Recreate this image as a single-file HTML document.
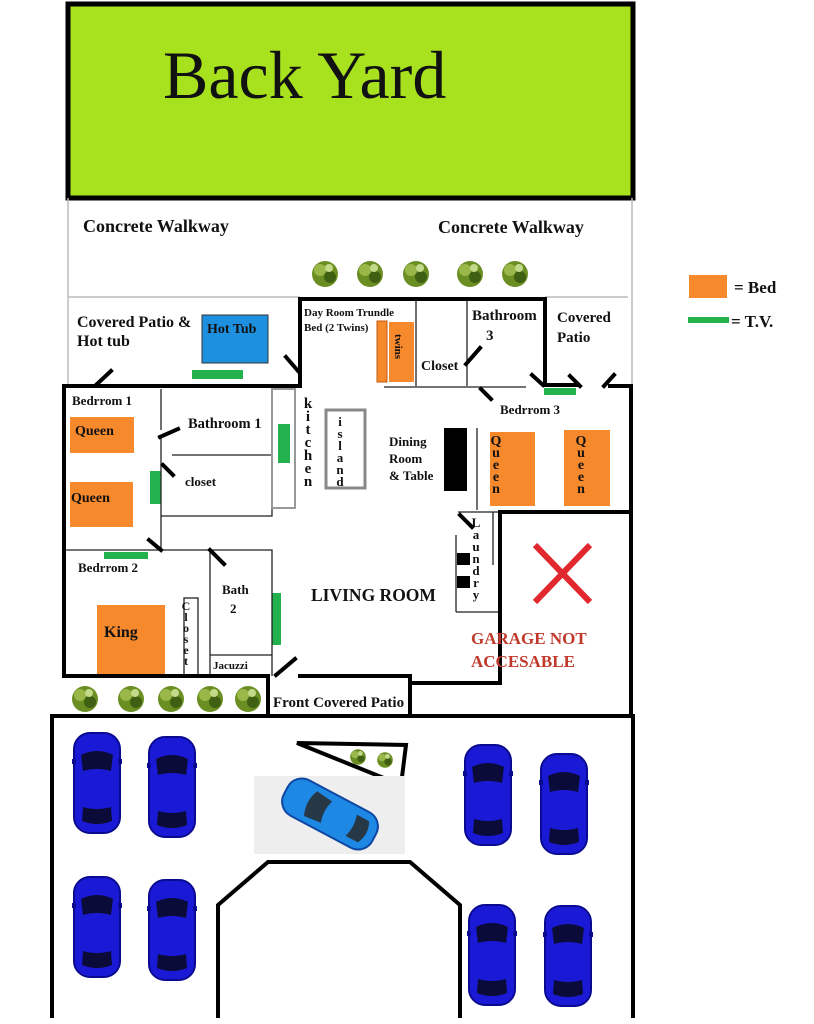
<!DOCTYPE html>
<html><head><meta charset="utf-8"><style>
html,body{margin:0;padding:0;background:#fff;width:814px;height:1024px;overflow:hidden}
text{font-family:"Liberation Serif",serif;font-weight:bold;fill:#111}
</style></head><body>
<svg width="814" height="1024" viewBox="0 0 814 1024" xmlns="http://www.w3.org/2000/svg">
<defs>
<g id="car">
<rect x="2" y="0" width="46" height="100" rx="16" fill="#1a1ad6" stroke="#0a0a90" stroke-width="2"/>
<path d="M9 22 Q25 14 41 22 L39 38 Q25 34 11 38 Z" fill="#0b0b3a"/>
<path d="M11 74 Q25 78 39 74 L40 88 Q25 94 10 88 Z" fill="#0b0b3a"/>
<rect x="0" y="26" width="4" height="5" fill="#0a0a90"/><rect x="46" y="26" width="4" height="5" fill="#0a0a90"/>
</g>
<g id="tree">
<circle cx="0" cy="0" r="13" fill="#6b8e23"/>
<circle cx="-5" cy="-4" r="6" fill="#9ab84a"/><circle cx="5" cy="3" r="6" fill="#3f5f12"/><circle cx="4" cy="-6" r="4" fill="#c3d98a"/>
</g>
</defs>
<rect x="68" y="4" width="565" height="194" fill="#a8e21e" stroke="#000" stroke-width="5"/>
<text x="163" y="98" font-size="68" style="font-weight:normal">Back Yard</text>
<g stroke="#bbb" stroke-width="1.5" fill="none">
<line x1="68" y1="198" x2="68" y2="386"/><line x1="632" y1="198" x2="632" y2="386"/>
<line x1="68" y1="297" x2="300" y2="297"/><line x1="545" y1="297" x2="628" y2="297"/>
</g>
<text x="83" y="232" font-size="18">Concrete Walkway</text>
<text x="438" y="233" font-size="18">Concrete Walkway</text>
<use href="#tree" x="325" y="274"/><use href="#tree" x="370" y="274"/><use href="#tree" x="416" y="274"/><use href="#tree" x="470" y="274"/><use href="#tree" x="515" y="274"/>
<use href="#tree" x="85" y="699"/><use href="#tree" x="131" y="699"/><use href="#tree" x="171" y="699"/><use href="#tree" x="210" y="699"/><use href="#tree" x="248" y="699"/>
<rect x="689" y="275" width="38" height="23" fill="#f7892d"/>
<text x="734" y="293" font-size="17">= Bed</text>
<rect x="688" y="317" width="41" height="6" fill="#22b14c"/>
<text x="731" y="327" font-size="17">= T.V.</text>
<g fill="#f7892d">
<rect x="70" y="417" width="64" height="36"/><rect x="70" y="482" width="63" height="45"/>
<rect x="97" y="605" width="68" height="70"/>
<rect x="377" y="321" width="10" height="61" stroke="#c05a10" stroke-width="1"/><rect x="389" y="322" width="25" height="60"/>
<rect x="490" y="432" width="45" height="74"/><rect x="564" y="430" width="46" height="76"/>
</g>
<rect x="202" y="315" width="66" height="48" fill="#1e90e0" stroke="#333" stroke-width="1"/>
<g fill="#22b14c">
<rect x="192" y="370" width="51" height="9"/><rect x="150" y="471" width="11" height="33"/><rect x="278" y="424" width="12" height="39"/>
<rect x="104" y="552" width="44" height="7"/><rect x="272" y="593" width="9" height="52"/><rect x="544" y="388" width="32" height="7"/>
</g>
<g fill="#000"><rect x="444" y="428" width="23" height="63"/><rect x="457" y="553" width="13" height="12"/><rect x="457" y="576" width="13" height="12"/></g>
<g stroke="#222" stroke-width="1.3" fill="none">
<line x1="161" y1="389" x2="161" y2="430"/><line x1="161" y1="437" x2="161" y2="550"/>
<polyline points="161,516 272,516 272,389"/><line x1="172" y1="455" x2="272" y2="455"/>
<line x1="64" y1="550" x2="208" y2="550"/><polyline points="210,676 210,550 272,550 272,676"/>
<line x1="210" y1="655" x2="272" y2="655"/><rect x="184" y="598" width="14" height="78"/>
<line x1="416" y1="300" x2="416" y2="386"/><line x1="467" y1="300" x2="467" y2="386"/>
<line x1="384" y1="387" x2="526" y2="387"/><line x1="477" y1="428" x2="477" y2="510"/>
<polyline points="456,612 456,535"/><line x1="456" y1="612" x2="500" y2="612"/><line x1="458" y1="512" x2="500" y2="512"/><line x1="493" y1="512" x2="493" y2="565"/>
</g>
<rect x="272" y="389" width="23" height="119" fill="none" stroke="#999" stroke-width="2"/>
<rect x="326" y="410" width="39" height="78" fill="none" stroke="#888" stroke-width="3"/>
<g stroke="#000" stroke-width="4" fill="none" stroke-linecap="square">
<polyline points="64,386 300,386"/><polyline points="64,386 64,676 268,676 268,715"/>
<polyline points="300,386 300,299 545,299 545,385 578,385"/><line x1="610" y1="386" x2="631" y2="386"/>
<line x1="631" y1="386" x2="631" y2="510"/>
<polyline points="300,676 410,676 410,715"/>
<polyline points="410,683 500,683 500,512 631,512"/>
<line x1="631" y1="512" x2="631" y2="715"/>
<line x1="52" y1="716" x2="633" y2="716"/>
<line x1="52" y1="716" x2="52" y2="1016"/><line x1="633" y1="716" x2="633" y2="1016"/>
<polyline points="218,1016 218,905 268,862 410,862 460,905 460,1016"/>
<polygon points="297,743 406,745 401,785"/>
<line x1="96" y1="385" x2="111" y2="371"/><line x1="286" y1="357" x2="299" y2="372"/>
<line x1="160" y1="437" x2="178" y2="429"/><line x1="163" y1="465" x2="173" y2="475"/>
<line x1="149" y1="540" x2="161" y2="550"/><line x1="210" y1="550" x2="224" y2="564"/>
<line x1="276" y1="675" x2="295" y2="659"/><line x1="480" y1="348" x2="466" y2="364"/>
<line x1="481" y1="389" x2="491" y2="399"/><line x1="532" y1="375" x2="543" y2="385"/>
<line x1="570" y1="376" x2="580" y2="386"/><line x1="604" y1="386" x2="614" y2="375"/>
<line x1="460" y1="515" x2="472" y2="527"/>
</g>
<use href="#tree" x="358" y="757" transform="translate(358,757) scale(0.6) translate(-358,-757)"/>
<use href="#tree" x="385" y="760" transform="translate(385,760) scale(0.6) translate(-385,-760)"/>
<g stroke="#e0282e" stroke-width="6"><line x1="535" y1="545" x2="590" y2="602"/><line x1="590" y1="545" x2="535" y2="602"/></g>
<text x="77" y="327" font-size="16">Covered Patio &amp;</text><text x="77" y="346" font-size="16">Hot tub</text>
<text x="207" y="333" font-size="14">Hot Tub</text>
<text x="304" y="316" font-size="11">Day Room Trundle</text><text x="304" y="331" font-size="11">Bed (2 Twins)</text>
<text x="398" y="334" font-size="11" writing-mode="tb">twins</text>
<text x="472" y="320" font-size="15">Bathroom</text><text x="486" y="340" font-size="15">3</text>
<text x="557" y="322" font-size="15">Covered</text><text x="557" y="342" font-size="15">Patio</text>
<text x="421" y="370" font-size="14">Closet</text>
<text x="72" y="405" font-size="13">Bedrrom 1</text>
<text x="75" y="435" font-size="14">Queen</text><text x="71" y="502" font-size="14">Queen</text>
<text x="188" y="428" font-size="14.5">Bathroom 1</text>
<text x="185" y="486" font-size="13">closet</text>
<text x="308" y="396" font-size="15" style="writing-mode:vertical-lr;text-orientation:upright;letter-spacing:-3px">kitchen</text>
<text x="340" y="414" font-size="13" style="writing-mode:vertical-lr;text-orientation:upright;letter-spacing:-3px">island</text>
<text x="389" y="446" font-size="13">Dining</text><text x="389" y="463" font-size="13">Room</text><text x="389" y="480" font-size="13">&amp; Table</text>
<text x="500" y="414" font-size="13">Bedrrom 3</text>
<text x="496" y="434" font-size="14" style="writing-mode:vertical-lr;text-orientation:upright;letter-spacing:-3px">Queen</text>
<text x="581" y="434" font-size="14" style="writing-mode:vertical-lr;text-orientation:upright;letter-spacing:-3px">Queen</text>
<text x="78" y="572" font-size="13">Bedrrom 2</text>
<text x="104" y="637" font-size="16">King</text>
<text x="222" y="594" font-size="13">Bath</text><text x="230" y="613" font-size="13">2</text>
<text x="186" y="599" font-size="12" style="writing-mode:vertical-lr;text-orientation:upright;letter-spacing:-3px">Closet</text>
<text x="213" y="669" font-size="11">Jacuzzi</text>
<text x="311" y="601" font-size="17.5">LIVING ROOM</text>
<text x="476" y="515" font-size="13" style="writing-mode:vertical-lr;text-orientation:upright;letter-spacing:-3px">Laundry</text>
<text x="471" y="644" font-size="17" style="fill:#c0392b">GARAGE NOT</text>
<text x="471" y="667" font-size="17" style="fill:#c0392b">ACCESABLE</text>
<text x="273" y="707" font-size="15">Front Covered Patio</text>
<use href="#car" transform="translate(72,733)"/><use href="#car" transform="translate(147,737)"/>
<use href="#car" transform="translate(72,877)"/><use href="#car" transform="translate(147,880)"/>
<use href="#car" transform="translate(463,745)"/><use href="#car" transform="translate(539,754)"/>
<use href="#car" transform="translate(467,905)"/><use href="#car" transform="translate(543,906)"/>
<rect x="254" y="776" width="151" height="78" fill="#eee"/>
<g transform="translate(330,814) rotate(-62)">
<rect x="-20" y="-50" width="40" height="100" rx="16" fill="#1e88e5" stroke="#0d47a1" stroke-width="2"/>
<path d="M-14 -22 Q0 -28 14 -22 L12 -4 Q0 -8 -12 -4 Z" fill="#263845"/>
<path d="M-12 24 Q0 28 12 24 L12 38 Q0 44 -12 38 Z" fill="#263845"/>
</g>
</svg>
</body></html>
